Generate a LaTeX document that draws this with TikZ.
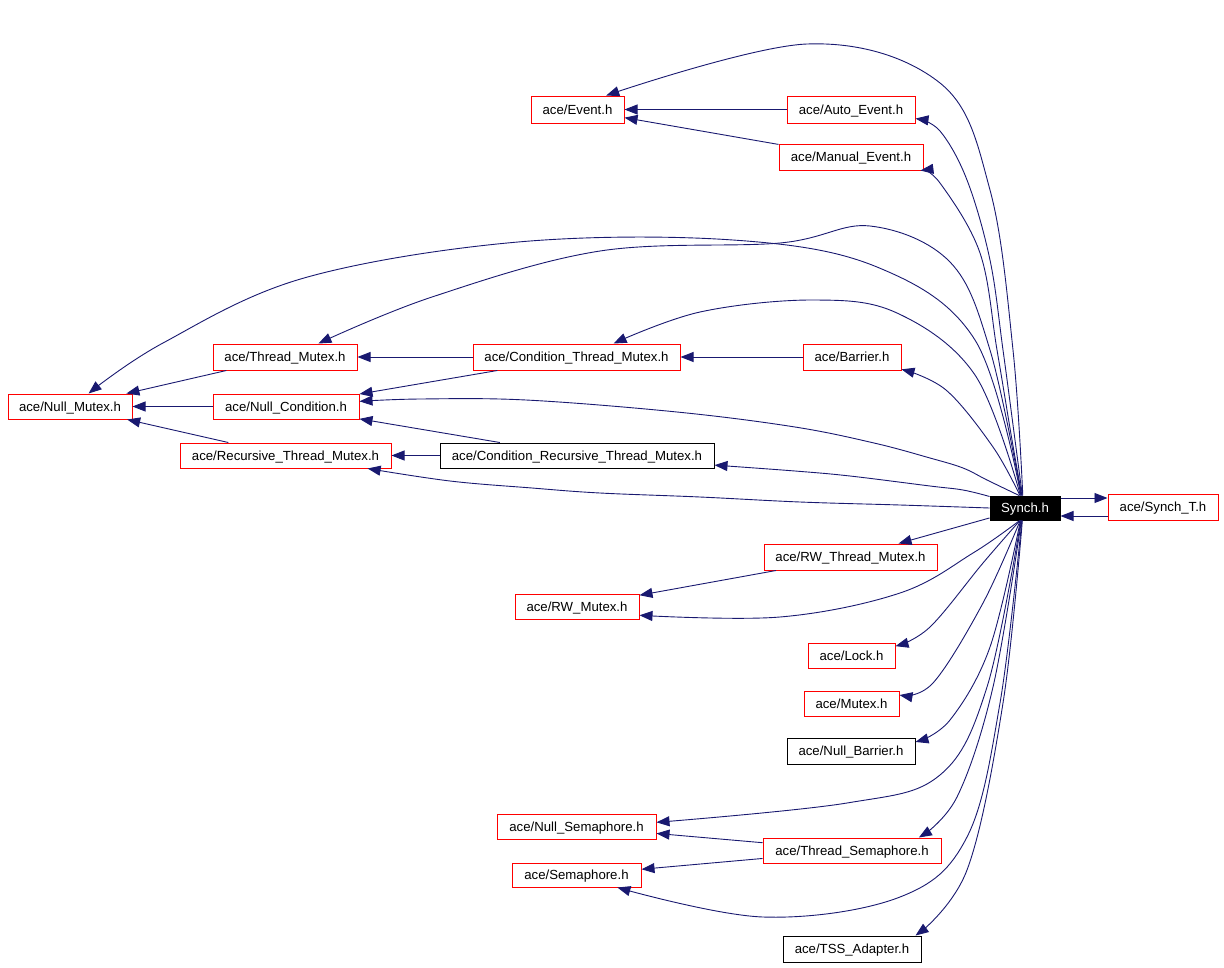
\documentclass[tikz,border=0pt]{standalone}
\usepackage{fontspec}
\setmainfont{Liberation Sans}
\usetikzlibrary{arrows.meta}
\definecolor{edgec}{HTML}{191970}
\begin{document}
\begin{tikzpicture}[x=1pt,y=-1pt,
  nbox/.style={draw=red, line width=1pt, inner sep=0pt, minimum height=26pt,
    font=\fontsize{13.2}{15}\selectfont, text=black, text height=9.5pt, text depth=0pt},
  kbox/.style={nbox, draw=black},
  sbox/.style={nbox, draw=black, fill=black, text=white},
  edge/.style={draw=edgec, line width=0.9pt, -{Triangle[length=13pt,width=10pt]}},
  cv/.style={smooth, tension=0.6}]
\useasboundingbox (0,0) rectangle (1224,967);
% nodes
\node[nbox, minimum width=93pt, minimum height=27pt] (event) at (577.5,109.5) {ace/Event.h};
\node[nbox, minimum width=128pt, minimum height=27pt] (autoev) at (851,109.5) {ace/Auto\_Event.h};
\node[nbox, minimum width=144pt] (manual) at (851,157) {ace/Manual\_Event.h};
\node[nbox, minimum width=144pt] (tmutex) at (285,357) {ace/Thread\_Mutex.h};
\node[nbox, minimum width=207pt] (ctm) at (576.5,357) {ace/Condition\_Thread\_Mutex.h};
\node[nbox, minimum width=98pt] (barrier) at (852,357) {ace/Barrier.h};
\node[nbox, minimum width=124pt, minimum height=25pt] (nullmutex) at (70,406.5) {ace/Null\_Mutex.h};
\node[nbox, minimum width=146pt, minimum height=25pt] (nullcond) at (286,406.5) {ace/Null\_Condition.h};
\node[nbox, minimum width=211pt, minimum height=25pt] (rtm) at (285.5,455.5) {ace/Recursive\_Thread\_Mutex.h};
\node[kbox, minimum width=274pt, minimum height=25pt] (crtm) at (577,455.5) {ace/Condition\_Recursive\_Thread\_Mutex.h};
\node[sbox, minimum width=70pt, minimum height=24pt] (synch) at (1025,508) {Synch.h};
\node[nbox, minimum width=110pt] (syncht) at (1163,507) {ace/Synch\_T.h};
\node[nbox, minimum width=173pt] (rwtm) at (850.5,557) {ace/RW\_Thread\_Mutex.h};
\node[nbox, minimum width=124pt, minimum height=25pt] (rwm) at (577,606.5) {ace/RW\_Mutex.h};
\node[nbox, minimum width=87pt, minimum height=25pt] (lock) at (851.5,655.5) {ace/Lock.h};
\node[nbox, minimum width=95pt, minimum height=25pt] (mutex) at (851.5,703.5) {ace/Mutex.h};
\node[kbox, minimum width=128pt] (nullbarrier) at (851,751) {ace/Null\_Barrier.h};
\node[nbox, minimum width=159pt, minimum height=25pt] (nullsem) at (576.5,826.5) {ace/Null\_Semaphore.h};
\node[nbox, minimum width=178pt, minimum height=25pt] (threadsem) at (852,850.5) {ace/Thread\_Semaphore.h};
\node[nbox, minimum width=129pt, minimum height=24pt] (sem) at (576.5,875) {ace/Semaphore.h};
\node[kbox, minimum width=138pt] (tss) at (852,949) {ace/TSS\_Adapter.h};
% straight edges
\draw[edge] (autoev) -- (event);
\draw[edge] (manual) -- (event);
\draw[edge] (tmutex) -- (nullmutex);
\draw[edge] (ctm) -- (tmutex);
\draw[edge] (barrier) -- (ctm);
\draw[edge] (ctm) -- (nullcond);
\draw[edge] (nullcond) -- (nullmutex);
\draw[edge] (crtm) -- (nullcond);
\draw[edge] (rtm) -- (nullmutex);
\draw[edge] (crtm) -- (rtm);
\draw[edge] (rwtm) -- (rwm);
\draw[edge] (threadsem) -- (nullsem);
\draw[edge] (threadsem) -- (sem);
\draw[edge] (synch) -- (rwtm);
\draw[edge] ([yshift=10pt]synch.east) -- ([yshift=10pt]synch.east -| syncht.west);
\draw[edge] ([yshift=-9pt]syncht.west) -- ([yshift=-9pt]syncht.west -| synch.east);
% curved edges from Synch.h (upper fan)
\draw[edge] plot[cv] coordinates {(synch.100) (1013,350) (990,190) (940,83) (807,44) (event.26)};
\draw[edge] plot[cv] coordinates {(synch.102) (1015,440) (1003,350) (990,260) (967,180) (940,131) (autoev.-8)};
\draw[edge] plot[cv] coordinates {(synch.104) (1012,440) (997,350) (980,253) (940,183) (manual.-11)};
\draw[edge] plot[cv] coordinates {(synch.106) (990,350) (950,262) (870,226) (780,243) (600,251) (432,297) (tmutex.22)};
\draw[edge] plot[cv] coordinates {(synch.108) (975,340) (877,267) (733,240) (518,242) (304,278) (163,343) (nullmutex.35)};
\draw[edge] plot[cv] coordinates {(synch.110) (975,375) (897,313) (813,300) (700,312) (ctm.20)};
\draw[edge] plot[cv] coordinates {(synch.112) (993,447) (946,390) (barrier.-14)};
\draw[edge] plot[cv] coordinates {(synch.115) (987,480) (963,468) (930,458) (874,443) (795,427) (677,412) (526,400) (420,399) (nullcond.4)};
\draw[edge] plot[cv] coordinates {(synch.162) (963,490) (930,486) (850,476) (795,471) (crtm.-4)};
\draw[edge] plot[cv] coordinates {(synch.west) (900,505) (800,502) (700,497) (600,493) (532,488) (450,481) (rtm.-9)};
% lower fan
\draw[edge] plot[cv] coordinates {(synch.-113) (973,553) (900,593) (780,617) (rwm.-8)};
\draw[edge] plot[cv] coordinates {(synch.-112) (983,563) (930,627) (lock.12)};
\draw[edge] plot[cv] coordinates {(synch.-111) (983,603) (933,683) (mutex.10)};
\draw[edge] plot[cv] coordinates {(synch.-110) (990,647) (950,720) (nullbarrier.8)};
\draw[edge] plot[cv] coordinates {(synch.-108) (987,687) (940,775) (847,803) (nullsem.3)};
\draw[edge] plot[cv] coordinates {(synch.-106) (993,687) (957,797) (threadsem.11)};
\draw[edge] plot[cv] coordinates {(synch.-104) (1000,703) (967,837) (900,897) (763,917) (sem.-17)};
\draw[edge] plot[cv] coordinates {(synch.-102) (1003,703) (967,870) (tss.12)};
\end{tikzpicture}
\end{document}
